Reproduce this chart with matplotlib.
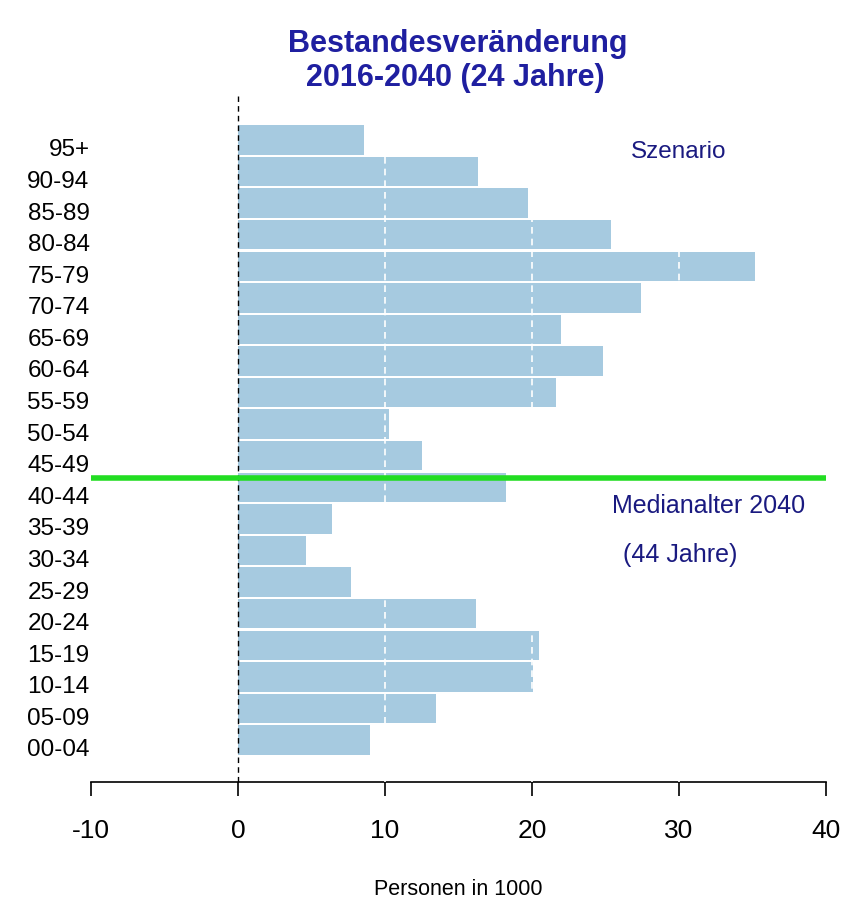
import matplotlib.pyplot as plt
import matplotlib.transforms as mtransforms
import numpy as np

plt.rcParams['font.family'] = ['Liberation Sans', 'DejaVu Sans']

# age groups, bottom to top
age_groups = ["00-04", "05-09", "10-14", "15-19", "20-24", "25-29", "30-34", "35-39",
              "40-44", "45-49", "50-54", "55-59", "60-64", "65-69", "70-74", "75-79",
              "80-84", "85-89", "90-94", "95+"]
# change in persons (1000), 2016-2040
change = [9.0, 13.5, 20.1, 20.5, 16.2, 7.7, 4.6, 6.4,
          18.2, 12.5, 10.3, 21.6, 24.8, 22.0, 27.4, 35.2,
          25.4, 19.7, 16.3, 8.6]
x_ticks = [-10, 0, 10, 20, 30, 40]
grid_x = [10, 20, 30]
median_pos = 8.28  # median age 2040 on the bar scale

W, H = 846, 904
fig = plt.figure(figsize=(W / 100, H / 100), dpi=100)
ax = fig.add_axes([91 / W, (H - 783) / H, (826 - 91) / W, (783 - 97) / H])

y = np.arange(len(age_groups))
ax.barh(y, change, height=0.93, color='#a6cae0', edgecolor='none', zorder=2)

# white dashed grid on top of the bars
for gx in grid_x:
    ax.axvline(gx, color='white', linestyle=(0, (4, 3)), linewidth=1.2, zorder=3)
ax.axvline(0, color='black', linestyle=(0, (4, 3)), linewidth=1.0, zorder=4)
ax.axhline(median_pos, color='#22dd22', linewidth=4.0, zorder=5)

ax.set_xlim(-10, 40)
ax.set_ylim(-1.33, 20.39)
ax.set_xticks(x_ticks)
ax.set_xticklabels([str(t) for t in x_ticks])
ax.set_yticks(y)
ax.set_yticklabels(age_groups)
ax.tick_params(axis='y', length=0, pad=1, labelsize=17.5)
ax.tick_params(axis='x', length=10, width=1.2, pad=16, labelsize=19)
# R puts the row labels a little below the bar centres
shift = mtransforms.ScaledTranslation(0, -7 / 100, fig.dpi_scale_trans)
for lab in ax.get_yticklabels():
    lab.set_transform(lab.get_transform() + shift)
for s in ['top', 'right', 'left']:
    ax.spines[s].set_visible(False)
ax.spines['bottom'].set_linewidth(1.2)

ax.set_xlabel('Personen in 1000', fontsize=15.5, va='center')
ax.xaxis.set_label_coords(0.5, (783 - 890) / (783 - 97))

ax.text(30.0, 18.65, 'Szenario', color='#1a1a80', fontsize=17.5, ha='center', va='center')
ax.text(32.0, 7.45, 'Medianalter 2040', color='#1a1a80', fontsize=18, ha='center', va='center')
ax.text(30.1, 5.89, '(44 Jahre)', color='#1a1a80', fontsize=18, ha='center', va='center')

fig.text(458 / W, 1 - 52 / H, 'Bestandesveränderung', color='#1f1fa0', fontsize=22,
         fontweight='bold', ha='center', va='baseline')
fig.text(455 / W, 1 - 86 / H, '2016-2040 (24 Jahre)', color='#1f1fa0', fontsize=22,
         fontweight='bold', ha='center', va='baseline')

fig.savefig('out.png', dpi=100)
